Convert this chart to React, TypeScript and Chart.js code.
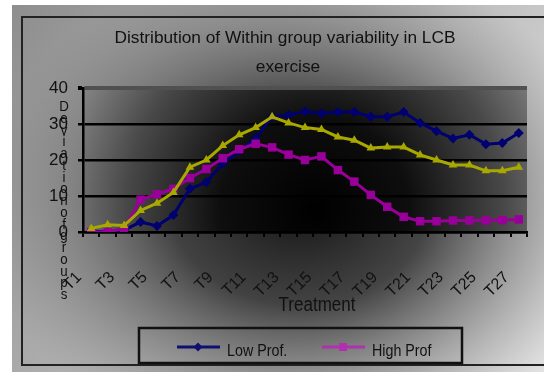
import React, { useEffect, useRef } from 'react';
import { Chart, registerables } from 'chart.js';

Chart.register(...registerables);

const categories = ['T1', 'T2', 'T3', 'T4', 'T5', 'T6', 'T7', 'T8', 'T9', 'T10', 'T11', 'T12', 'T13', 'T14', 'T15', 'T16', 'T17', 'T18', 'T19', 'T20', 'T21', 'T22', 'T23', 'T24', 'T25', 'T26', 'T27'];
const lowProf = [0.3, 0, 0.5, 2.8, 1.7, 4.7, 12, 13.8, 19, 22.5, 26, 32, 32.5, 33.5, 33, 33.3, 33.3, 32, 32, 33.3, 30.3, 28, 26, 27, 24.4, 24.7, 27.5];
const highProf = [0, 0, 1, 9, 10.5, 12, 15, 17.5, 20.5, 23, 24.5, 23.5, 21.5, 20, 21, 17.2, 14, 10.3, 7, 4.2, 3, 3, 3.2, 3.2, 3.2, 3.3, 3.5];
const series3 = [1, 2, 1.8, 6, 8, 11, 18, 20, 24, 27, 29, 32, 30.3, 29, 28.5, 26.4, 25.5, 23.3, 23.6, 23.6, 21.4, 20, 18.6, 18.6, 17, 17, 18];
const yMin = 0;
const yMax = 40;
const yStep = 10;
const titleLines = ['Distribution of Within group variability in LCB', 'exercise'];
const xTitle = 'Treatment';
const yTitle = 'Deviationofgroups';
const legendNames = ['Low Prof.', 'High Prof'];

const FONT = '"Liberation Sans", Arial, sans-serif';
const NAVY = '#000070';
const MAGENTA = '#990099';
const YELLOW = '#a8a800';

function drawText(ctx: CanvasRenderingContext2D, text: string, x: number, y: number, size: number, sx: number, align: CanvasTextAlign) {
  ctx.save();
  ctx.font = `${size}px ${FONT}`;
  ctx.fillStyle = '#111';
  ctx.translate(x, y);
  ctx.scale(sx, 1);
  ctx.textAlign = align;
  ctx.textBaseline = 'alphabetic';
  ctx.fillText(text, 0, 0);
  ctx.restore();
}

const bgPlugin = {
  id: 'bgPlugin',
  beforeDraw(chart: any) {
    const { ctx, chartArea: a } = chart;
    ctx.save();
    ctx.fillStyle = '#ffffff';
    ctx.fillRect(0, 0, 544, 372);
    ctx.beginPath();
    ctx.rect(12, 5, 532, 367);
    ctx.clip();
    const lg = ctx.createLinearGradient(12, 5, 544, 372);
    lg.addColorStop(0, '#8e8e8e');
    lg.addColorStop(1, '#e2e2e2');
    ctx.fillStyle = lg;
    ctx.fillRect(12, 5, 532, 367);
    ctx.save();
    ctx.translate(300, 205);
    ctx.scale(1, 0.78);
    const rg = ctx.createRadialGradient(0, 0, 0, 0, 0, 320);
    rg.addColorStop(0, 'rgba(20,20,20,1)');
    rg.addColorStop(0.4, 'rgba(45,45,45,0.85)');
    rg.addColorStop(1, 'rgba(120,120,120,0)');
    ctx.fillStyle = rg;
    ctx.fillRect(-320, -420, 640, 840);
    ctx.restore();
    ctx.strokeStyle = '#222';
    ctx.lineWidth = 2;
    ctx.strokeRect(22, 17, 540, 348);
    const pg = ctx.createRadialGradient(315, 210, 0, 315, 210, 270);
    pg.addColorStop(0, '#000000');
    pg.addColorStop(0.35, '#0e0e0e');
    pg.addColorStop(0.7, '#484848');
    pg.addColorStop(1, '#8c8c8c');
    ctx.fillStyle = pg;
    ctx.fillRect(a.left, a.top, a.right - a.left, a.bottom - a.top);
    ctx.restore();
  },
};

const textPlugin = {
  id: 'textPlugin',
  afterDraw(chart: any) {
    const { ctx } = chart;
    ctx.save();
    drawText(ctx, titleLines[0], 285, 43, 16, 1.08, 'center');
    drawText(ctx, titleLines[1], 288, 72, 16, 1.08, 'center');
    drawText(ctx, xTitle, 317, 311, 20, 0.85, 'center');
    // stacked y title
    const letters = yTitle.split('');
    const y0 = 106;
    const y1 = 294;
    const step = (y1 - y0) / (letters.length - 1);
    letters.forEach((ch, i) => {
      drawText(ctx, ch, 64, y0 + i * step + 5, 14, 0.95, 'center');
    });
    // legend
    ctx.strokeStyle = '#111';
    ctx.lineWidth = 2.5;
    ctx.strokeRect(139, 328, 323, 35);
    const ly = 347;
    // Low Prof
    ctx.strokeStyle = '#101070';
    ctx.lineWidth = 3;
    ctx.beginPath();
    ctx.moveTo(177, ly);
    ctx.lineTo(220, ly);
    ctx.stroke();
    ctx.fillStyle = '#101070';
    ctx.beginPath();
    ctx.moveTo(198, ly - 4.5);
    ctx.lineTo(202.5, ly);
    ctx.lineTo(198, ly + 4.5);
    ctx.lineTo(193.5, ly);
    ctx.closePath();
    ctx.fill();
    drawText(ctx, legendNames[0], 227, 356, 17, 0.84, 'left');
    // High Prof
    ctx.strokeStyle = '#b030b0';
    ctx.lineWidth = 3;
    ctx.beginPath();
    ctx.moveTo(322, ly);
    ctx.lineTo(365, ly);
    ctx.stroke();
    ctx.fillStyle = '#b030b0';
    ctx.fillRect(339, ly - 4, 8, 8);
    drawText(ctx, legendNames[1], 372, 356, 17, 0.84, 'left');
    ctx.restore();
  },
};

export default function App() {
  const ref = useRef<HTMLCanvasElement>(null);
  useEffect(() => {
    document.body.style.margin = '0';
    const canvas = ref.current!;
    const chart = new Chart(canvas, {
      type: 'line',
      data: {
        labels: categories,
        datasets: [
          {
            label: 'Series3',
            data: series3,
            borderColor: YELLOW,
            backgroundColor: YELLOW,
            borderWidth: 3,
            pointStyle: 'triangle',
            pointRadius: 5,
            pointBorderWidth: 0,
            order: 0,
          },
          {
            label: legendNames[1],
            data: highProf,
            borderColor: MAGENTA,
            backgroundColor: MAGENTA,
            borderWidth: 3,
            pointStyle: 'rect',
            pointRadius: 6,
            pointBorderWidth: 0,
            order: 1,
          },
          {
            label: legendNames[0],
            data: lowProf,
            borderColor: NAVY,
            backgroundColor: NAVY,
            borderWidth: 3,
            pointStyle: 'rectRot',
            pointRadius: 5,
            pointBorderWidth: 0,
            order: 2,
          },
        ],
      },
      options: {
        responsive: false,
        animation: false,
        layout: { padding: { left: 20, right: 17, top: 88, bottom: 0 } },
        plugins: {
          legend: { display: false },
          title: { display: false },
          tooltip: { enabled: false },
        },
        scales: {
          x: {
            offset: true,
            grid: { offset: true, drawOnChartArea: false, drawTicks: true, tickLength: 5, color: '#000', lineWidth: 2 },
            border: { display: true, color: '#000', width: 2.5 },
            ticks: {
              autoSkip: false,
              maxRotation: 45,
              minRotation: 45,
              padding: 31,
              labelOffset: -12,
              color: '#111',
              font: { family: FONT, size: 16 },
              callback: (_v: any, i: number) => (i % 2 === 0 ? categories[i] : ''),
            },
            afterFit: (s: any) => {
              s.height = 140;
              s.paddingLeft = 0;
              s.paddingRight = 0;
            },
          },
          y: {
            min: yMin,
            max: yMax,
            ticks: { stepSize: yStep, padding: 10, color: '#111', font: { family: FONT, size: 17 } },
            grid: {
              color: (c: any) => (c.tick && c.tick.value === yMax ? '#505050' : '#000'),
              tickColor: '#000',
              lineWidth: (c: any) => (c.tick && c.tick.value === yMax ? 4 : 2.5),
              tickLength: 5,
              drawTicks: true,
            },
            border: { display: true, color: '#000', width: 2.5 },
            afterFit: (s: any) => {
              s.width = 63;
              s.paddingTop = 0;
              s.paddingBottom = 0;
            },
          },
        },
      },
      plugins: [bgPlugin, textPlugin],
    } as any);
    return () => chart.destroy();
  }, []);
  return (
    <div style={{ width: 544, height: 372, position: 'relative' }}>
      <canvas ref={ref} width={544} height={372} style={{ display: 'block' }} />
    </div>
  );
}
